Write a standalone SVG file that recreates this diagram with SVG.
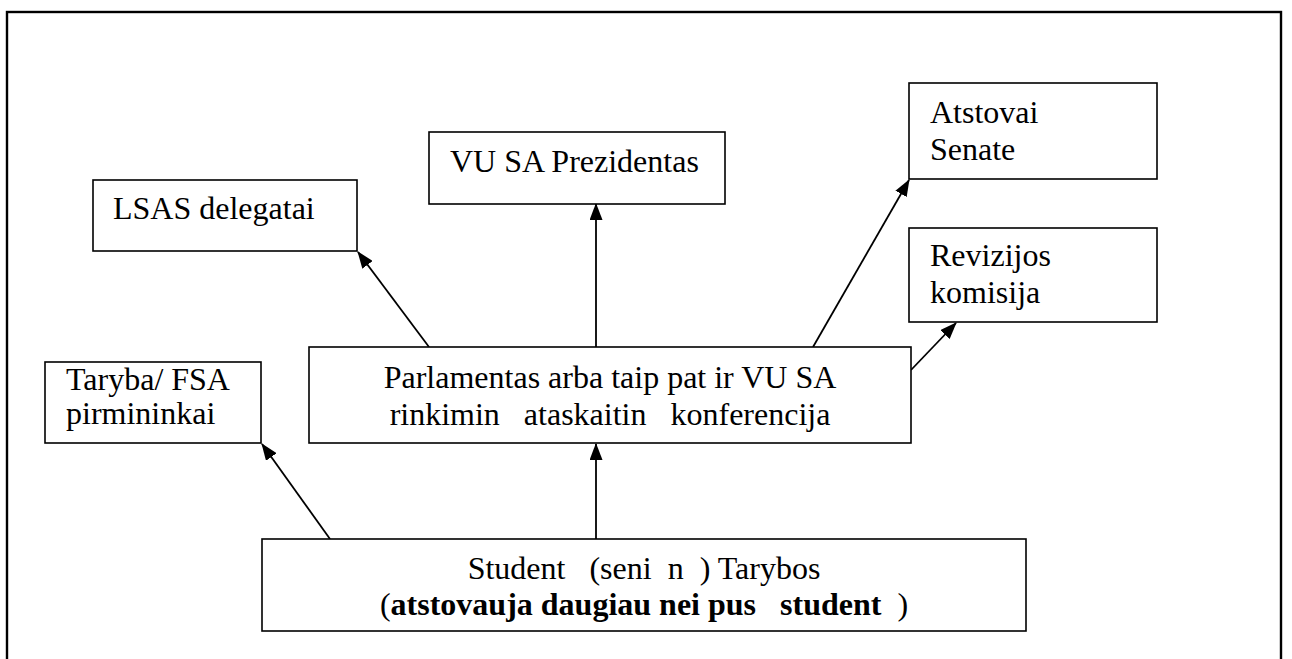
<svg xmlns="http://www.w3.org/2000/svg" width="1292" height="659" viewBox="0 0 1292 659">
<defs>
<marker id="ah" markerWidth="17" markerHeight="13" refX="16" refY="6.5" orient="auto" markerUnits="userSpaceOnUse">
<path d="M0,0 L17,6.5 L0,13 Z" fill="#000"/>
</marker>
</defs>
<style>
.box{fill:#fff;stroke:#000;stroke-width:1.6}
.t{font-family:"Liberation Serif","Times New Roman",serif;font-size:32px;fill:#000}
.b{font-weight:bold}
.c{text-anchor:middle}
.ln{stroke:#000;stroke-width:1.8;fill:none;marker-end:url(#ah)}
</style>
<rect x="7" y="12" width="1274" height="700" fill="none" stroke="#000" stroke-width="2.4"/>
<g id="connectors">
<line class="ln" x1="330" y1="539" x2="262" y2="444"/>
<line class="ln" x1="596" y1="539" x2="596" y2="444"/>
<line class="ln" x1="596" y1="347" x2="596" y2="204"/>
<line class="ln" x1="429" y1="347" x2="358" y2="252"/>
<line class="ln" x1="813" y1="347" x2="909" y2="180"/>
<line class="ln" x1="911" y1="370" x2="956" y2="323"/>
</g>
<g id="taryba">
<rect class="box" x="45" y="362" width="216" height="81"/>
<text class="t" x="66" y="390" font-family="Liberation Serif, serif">Taryba/ FSA</text>
<text class="t" x="66" y="424" font-family="Liberation Serif, serif">pirmininkai</text>
</g>
<g id="parlamentas">
<rect class="box" x="309" y="347" width="602" height="96"/>
<text class="t c" x="610" y="388">Parlamentas arba taip pat ir VU SA</text>
<text class="t c" x="610" y="425" xml:space="preserve">rinkimin   ataskaitin   konferencija</text>
</g>
<g id="studentu">
<rect class="box" x="262" y="539" width="764" height="92"/>
<text class="t c" x="644" y="579" xml:space="preserve">Student   (seni  n  ) Tarybos</text>
<text class="t c" x="644" y="615" xml:space="preserve">(<tspan class="b">atstovauja daugiau nei pus   student  </tspan>)</text>
</g>
<g id="lsas">
<rect class="box" x="93" y="180" width="264" height="71"/>
<text class="t" x="113" y="219">LSAS delegatai</text>
</g>
<g id="prezidentas">
<rect class="box" x="429" y="132" width="296" height="72"/>
<text class="t" x="450" y="172">VU SA Prezidentas</text>
</g>
<g id="senate">
<rect class="box" x="909" y="83" width="248" height="96"/>
<text class="t" x="930" y="123">Atstovai</text>
<text class="t" x="930" y="160">Senate</text>
</g>
<g id="revizijos">
<rect class="box" x="909" y="228" width="248" height="94"/>
<text class="t" x="930" y="266">Revizijos</text>
<text class="t" x="930" y="303">komisija</text>
</g>
</svg>
